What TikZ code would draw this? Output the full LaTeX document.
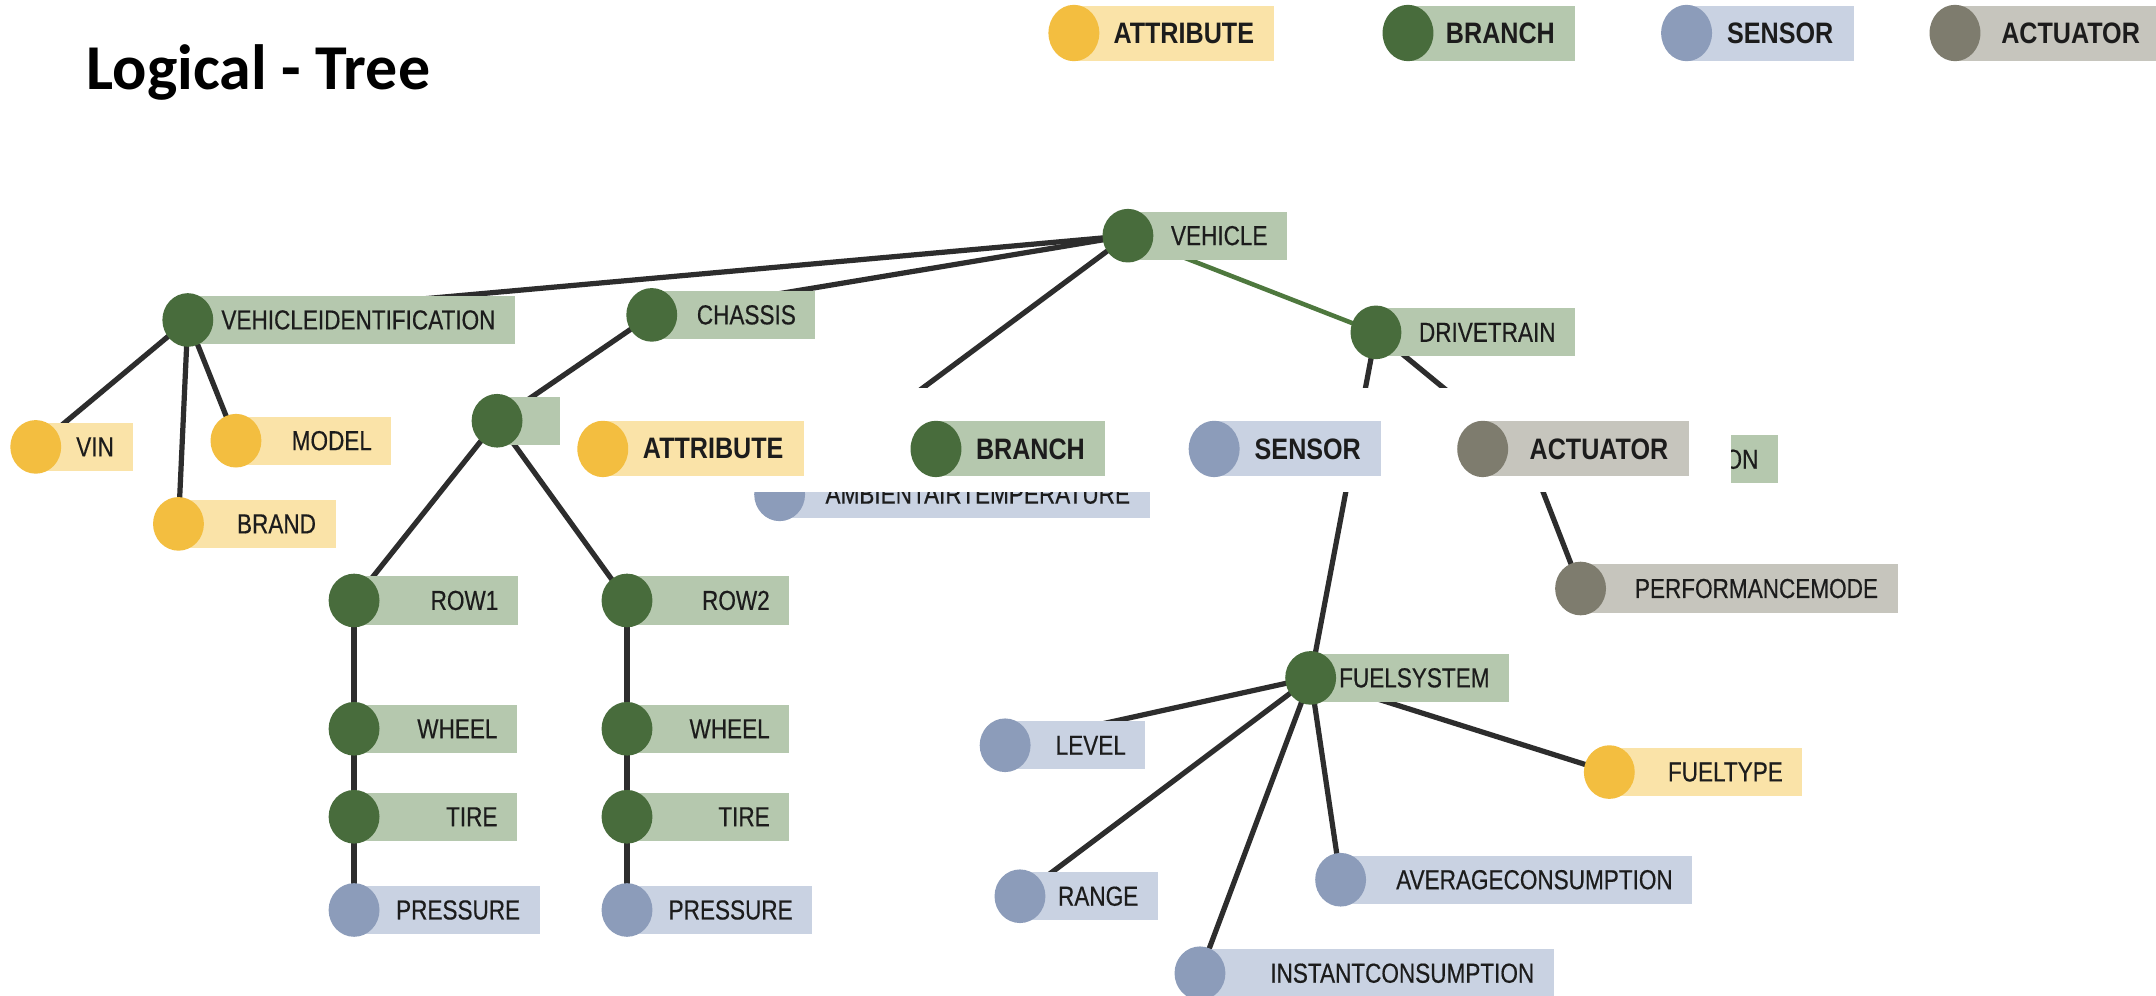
\documentclass[tikz,border=0pt]{standalone}
\usepackage{fontspec}
\newfontfamily\titlefont{Carlito}
\newfontfamily\lblfont[FakeStretch=0.82,FakeBold=0.4]{Liberation Sans}
\newfontfamily\legfont[FakeStretch=0.85]{Liberation Sans}
\usetikzlibrary{shapes.geometric}
\pgfdeclarelayer{bg}
\pgfsetlayers{bg,main}
\definecolor{atC}{RGB}{243,190,64}
\definecolor{atB}{RGB}{250,227,168}
\definecolor{brC}{RGB}{72,108,60}
\definecolor{brB}{RGB}{181,200,174}
\definecolor{seC}{RGB}{140,156,186}
\definecolor{seB}{RGB}{201,210,226}
\definecolor{acC}{RGB}{126,124,110}
\definecolor{acB}{RGB}{198,197,189}
\definecolor{edgeC}{RGB}{45,45,45}
\definecolor{gedgeC}{RGB}{78,120,62}
\definecolor{labC}{RGB}{28,28,28}
\tikzset{
  dot/.style={ellipse, inner sep=0pt, minimum width=37pt, minimum height=39pt},
  ldot/.style={ellipse, inner sep=0pt, minimum width=37pt, minimum height=41pt},
  atdot/.style={fill=atC}, atbox/.style={fill=atB},
  brdot/.style={fill=brC}, brbox/.style={fill=brB},
  sedot/.style={fill=seC}, sebox/.style={fill=seB},
  acdot/.style={fill=acC}, acbox/.style={fill=acB},
  lbl/.style={inner sep=0pt, text=labC, font=\lblfont\fontsize{20}{20}\selectfont},
  leg/.style={inner sep=0pt, text=labC, font=\legfont\bfseries\fontsize{21.5}{21.5}\selectfont},
  link/.style={draw=edgeC, line width=3.8pt},
  glink/.style={draw=gedgeC, line width=3.3pt}
}
% tree node: name, kind, cx, cy, box right, text
\newcommand{\tnode}[6]{%
  \fill[#2box] (#3,#4-17.5) rectangle (#5,#4+17.5);
  \node[dot,#2dot] (#1) at (#3,#4) {};
  \node[lbl,anchor=east] (#1-l) at (#5-14,#4) {#6};
}
% legend item: name, kind, cx, cy, box right, text
\newcommand{\lgnode}[6]{%
  \fill[#2box] (#3,#4-20) rectangle (#5,#4+20);
  \node[ldot,#2dot] (#1) at (#3,#4) {};
  \node[leg,anchor=east] (#1-l) at (#5-14.5,#4) {#6};
}
\begin{document}
\begin{tikzpicture}[x=1pt,y=-1pt]
\useasboundingbox (0,0) rectangle (1568,724);
\begin{pgfonlayer}{bg}
\fill[white] (0,0) rectangle (1568,724);
\end{pgfonlayer}

\node[anchor=base west, inner sep=0pt, font=\titlefont\bfseries\fontsize{46.5}{46.5}\selectfont] (title) at (63,65) {Logical - Tree};

% top legend
\lgnode{lgA}{at}{781}{24}{926.7}{ATTRIBUTE}
\lgnode{lgB}{br}{1024}{24}{1145.5}{BRANCH}
\lgnode{lgS}{se}{1226.6}{24}{1348}{SENSOR}
\lgnode{lgC}{ac}{1421.8}{24}{1571}{ACTUATOR}

% tree
\tnode{vehicle}{br}{820.3}{171.4}{936}{VEHICLE}
\tnode{vid}{br}{136.6}{232.7}{374.5}{VEHICLEIDENTIFICATION}
\tnode{chassis}{br}{474}{229}{593}{CHASSIS}
\tnode{drive}{br}{1000.7}{241.7}{1145.5}{DRIVETRAIN}
\tnode{vin}{at}{26}{325}{97}{VIN}
\tnode{model}{at}{171.6}{320.5}{284.7}{MODEL}
\tnode{brand}{at}{129.8}{381}{244}{BRAND}
\tnode{axle}{br}{361.5}{306}{450}{}
\tnode{rowA}{br}{257.5}{436.7}{376.6}{ROW1}
\tnode{rowB}{br}{456}{436.7}{574}{ROW2}
\tnode{wheelA}{br}{257.5}{530}{376}{WHEEL}
\tnode{wheelB}{br}{456}{530}{574}{WHEEL}
\tnode{tireA}{br}{257.5}{594}{376}{TIRE}
\tnode{tireB}{br}{456}{594}{574}{TIRE}
\tnode{pressA}{se}{257.5}{661.8}{392.5}{PRESSURE}
\tnode{pressB}{se}{456}{661.8}{590.7}{PRESSURE}
\tnode{ambient}{se}{567}{359.5}{836}{AMBIENTAIRTEMPERATURE}
\tnode{trans}{br}{1113}{334}{1293}{ON}
\tnode{perf}{ac}{1149.5}{428}{1380}{PERFORMANCEMODE}
\tnode{fuel}{br}{953.2}{493}{1097.5}{FUELSYSTEM}
\tnode{level}{se}{731}{542}{833}{LEVEL}
\tnode{ftype}{at}{1170.4}{561.5}{1310.8}{FUELTYPE}
\tnode{range}{se}{741.8}{651.8}{842}{RANGE}
\tnode{avg}{se}{975}{639.8}{1230.7}{AVERAGECONSUMPTION}
\tnode{inst}{se}{872.7}{707.8}{1130}{INSTANTCONSUMPTION}

\begin{pgfonlayer}{bg}
\draw[link] (vehicle.center) -- (vid.center);
\draw[link] (vehicle.center) -- (chassis.center);
\draw[link] (vehicle.center) -- (ambient.center);
\draw[glink] (vehicle.center) -- (drive.center);
\draw[link] (vid.center) -- (vin.center);
\draw[link] (vid.center) -- (brand.center);
\draw[link] (vid.center) -- (model.center);
\draw[link] (chassis.center) -- (axle.center);
\draw[link] (axle.center) -- (rowA.center);
\draw[link] (axle.center) -- (rowB.center);
\draw[link] (rowA.center) -- (wheelA.center) -- (tireA.center) -- (pressA.center);
\draw[link] (rowB.center) -- (wheelB.center) -- (tireB.center) -- (pressB.center);
\draw[link] (drive.center) -- (fuel.center);
\draw[link] (drive.center) -- (trans.center);
\draw[link] (trans.center) -- (perf.center);
\draw[link] (fuel.center) -- (level.center);
\draw[link] (fuel.center) -- (range.center);
\draw[link] (fuel.center) -- (inst.center);
\draw[link] (fuel.center) -- (avg.center);
\draw[link] (fuel.center) -- (ftype.center);
\end{pgfonlayer}

% overlaid legend strip
\fill[white] (407,282) rectangle (1259,358);
\lgnode{olA}{at}{438.4}{326.5}{584.5}{ATTRIBUTE}
\lgnode{olB}{br}{680.7}{326.5}{803.7}{BRANCH}
\lgnode{olS}{se}{883}{326.5}{1004.4}{SENSOR}
\lgnode{olC}{ac}{1078.3}{326.5}{1228}{ACTUATOR}
\end{tikzpicture}
\end{document}
